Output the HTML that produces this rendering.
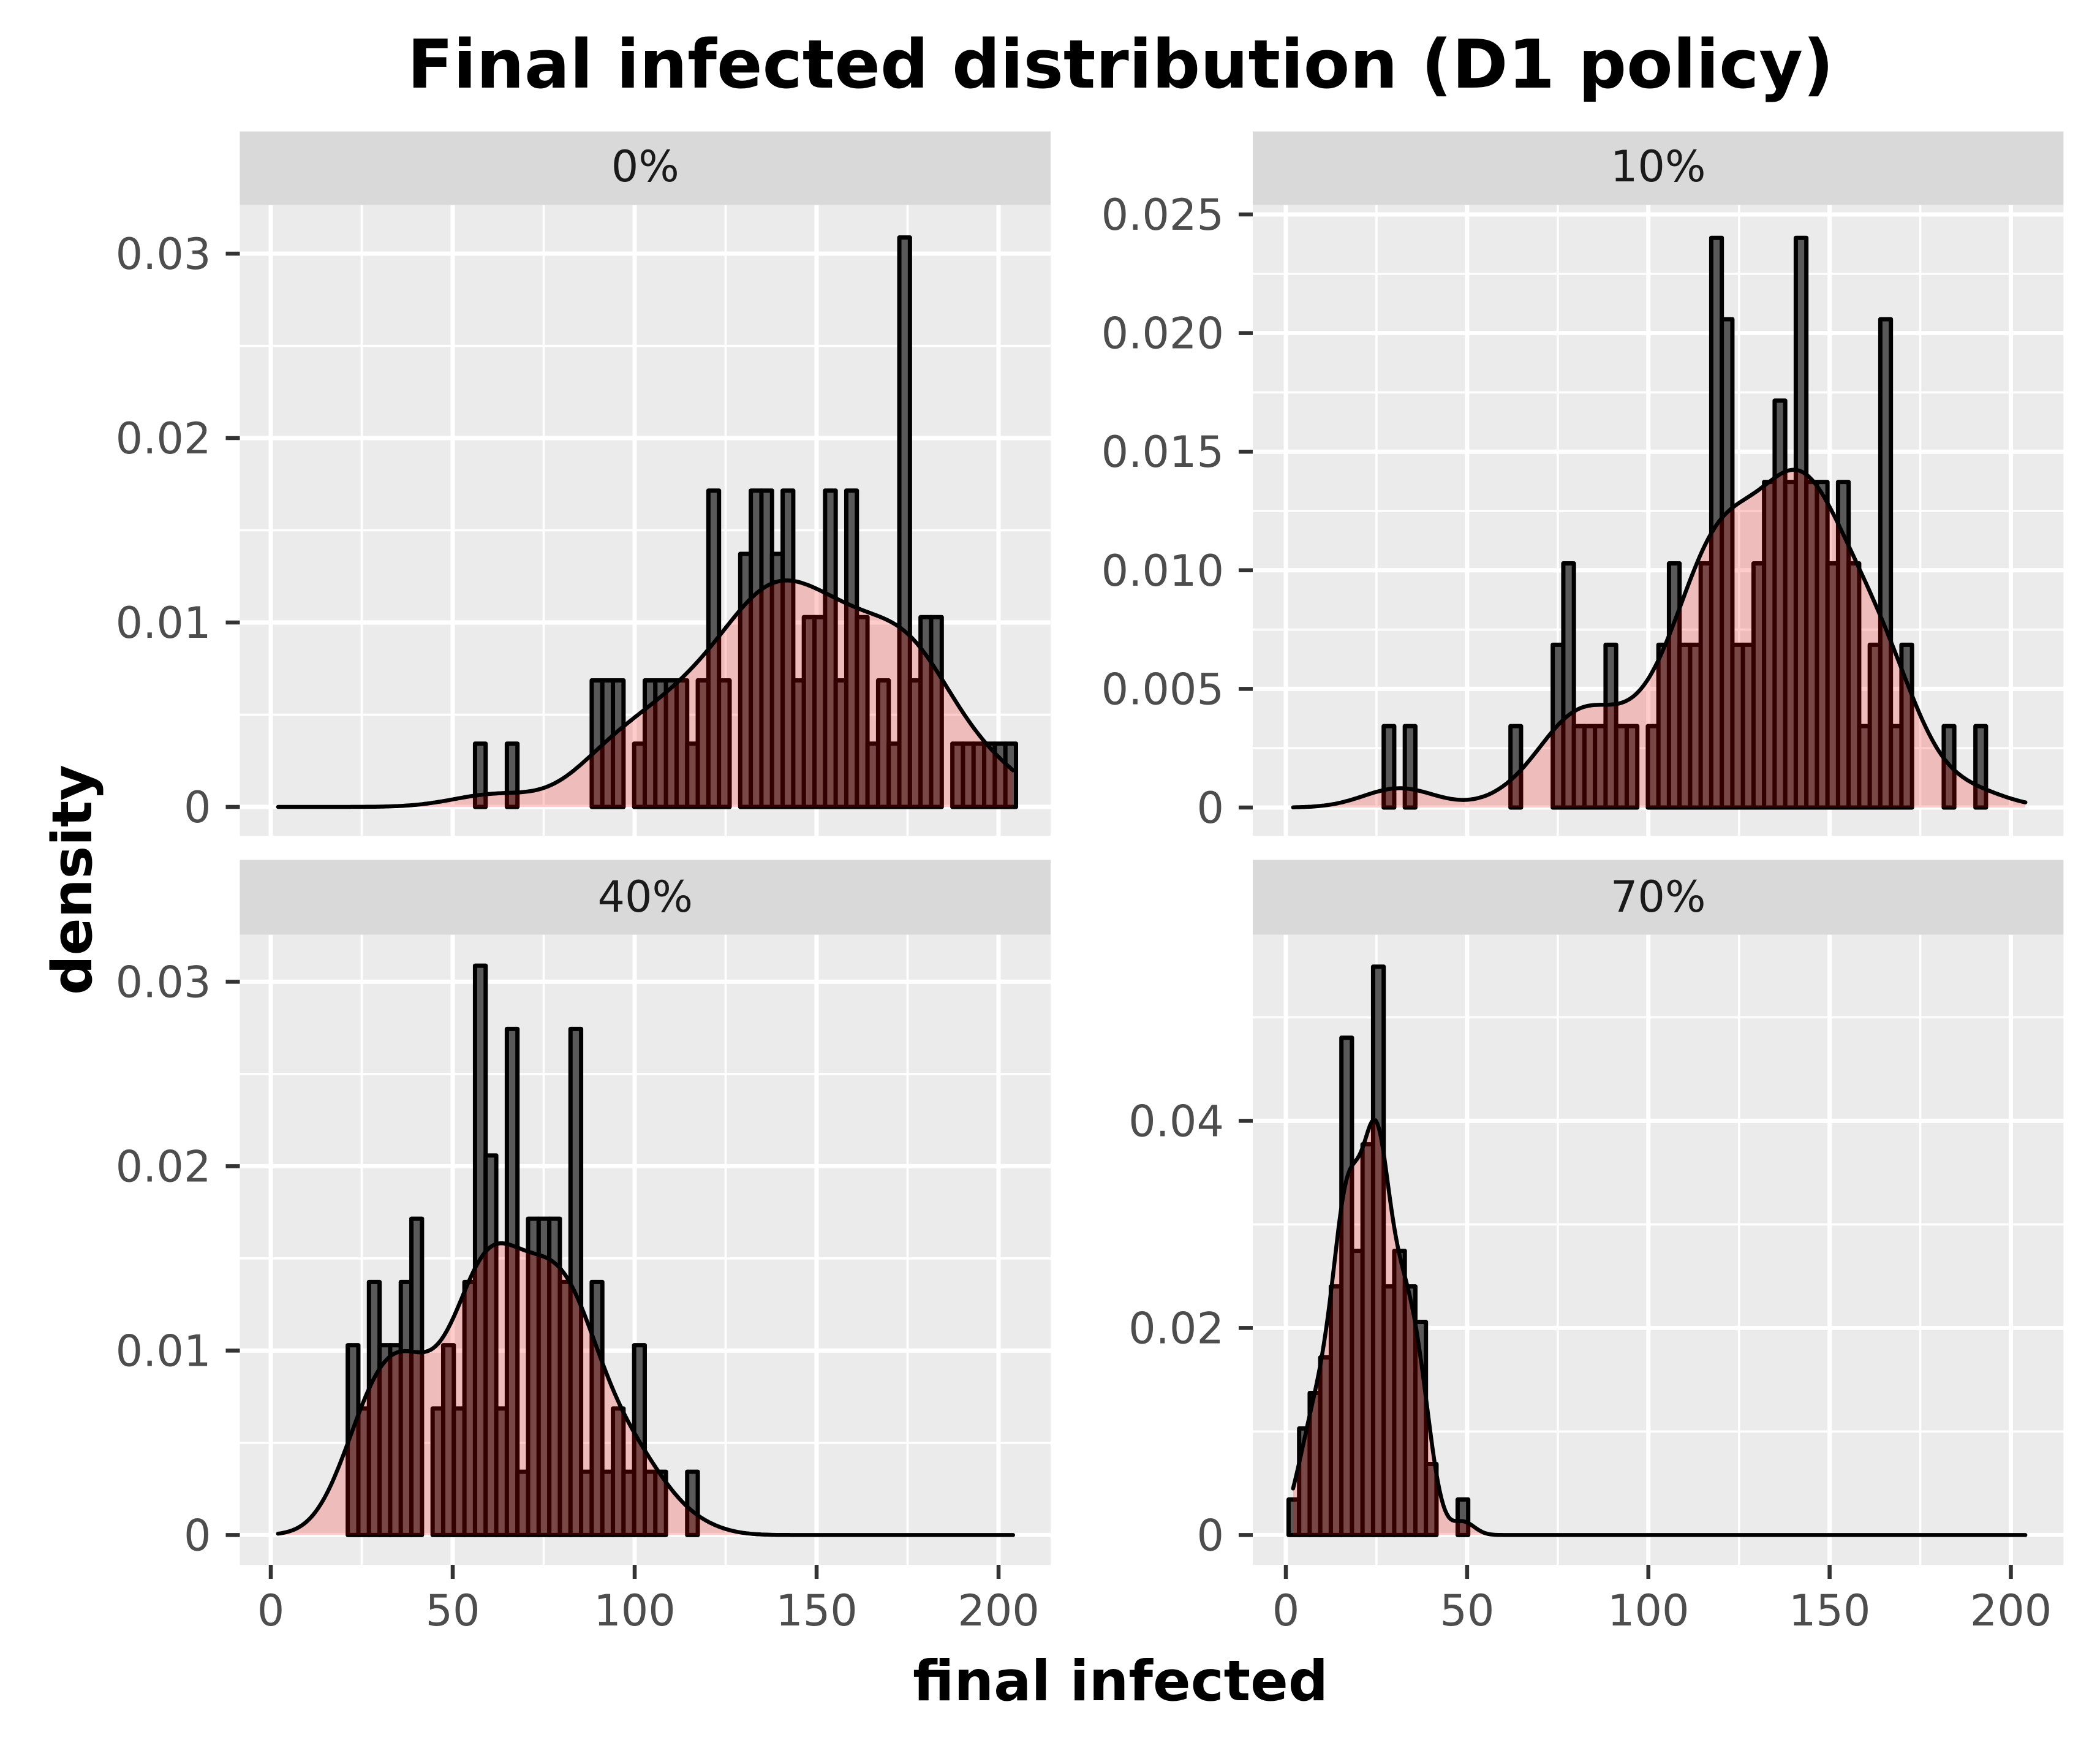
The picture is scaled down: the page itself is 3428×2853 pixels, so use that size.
<!DOCTYPE html>
<html>
<head>
<meta charset="utf-8">
<style>
html,body{margin:0;padding:0;background:#fff;}
svg{display:block;}
text{font-family:"DejaVu Sans","Liberation Sans",sans-serif;}
</style>
</head>
<body>
<svg id="chart" xmlns="http://www.w3.org/2000/svg" width="3428" height="2853" viewBox="0 0 3428 2853">
  <rect x="0" y="0" width="3428" height="2853" fill="#ffffff"/>
  <text x="1829" y="143" text-anchor="middle" font-size="110" font-weight="bold" fill="#000">Final infected distribution (D1 policy)</text>
  <text x="1829" y="2775" text-anchor="middle" font-size="91" font-weight="bold" fill="#000">final infected</text>
  <text x="0" y="0" transform="translate(149,1436) rotate(-90)" text-anchor="middle" font-size="90" font-weight="bold" fill="#000">density</text>
  <g id="panels"></g>
</svg>
<script>
// ---- data ----
const facetLabels = ["0%", "10%", "40%", "70%"];
const BIN_START = 0.75;
const BIN_WIDTH = 2.915;
const N_OBS = 100;
const X_MIN = 2;
const X_MAX = 204;
// counts per bin index (bins 0..69)
const counts0 = [0,0,0,0,0,0,0,0,0,0, 0,0,0,0,0,0,0,0,0,1, 0,0,1,0,0,0,0,0,0,0, 2,2,2,0,1,2,2,2,2,1, 2,5,2,0,4,5,5,4,5,2, 3,3,5,2,5,3,1,2,1,9, 2,3,3,0,1,1,1,1,1,1];
const counts10 = [0,0,0,0,0,0,0,0,0,1, 0,1,0,0,0,0,0,0,0,0, 0,1,0,0,0,2,3,1,1,1, 2,1,1,0,1,2,3,2,2,3, 7,6,2,2,3,4,5,4,7,4, 4,3,4,3,1,2,6,1,2,0, 0,0,1,0,0,1,0,0,0,0];
const counts40 = [0,0,0,0,0,0,0,3,2,4, 3,3,4,5,0,2,3,2,4,9, 6,2,8,1,5,5,5,4,8,1, 4,1,2,1,3,1,1,0,0,1, 0,0,0,0,0,0,0,0,0,0, 0,0,0,0,0,0,0,0,0,0, 0,0,0,0,0,0,0,0,0,0];
const counts70 = [1,3,4,5,7,14,8,11,16,7, 8,7,6,2,0,0,1,0,0,0, 0,0,0,0,0,0,0,0,0,0, 0,0,0,0,0,0,0,0,0,0, 0,0,0,0,0,0,0,0,0,0, 0,0,0,0,0,0,0,0,0,0, 0,0,0,0,0,0,0,0,0,0];
const xTicks = [0, 50, 100, 150, 200];
const xTickLabels = ["0", "50", "100", "150", "200"];
const xMinor = [25, 75, 125, 175];
const yTicks0 = [0, 0.01, 0.02, 0.03];
const yTickLabels0 = ["0", "0.01", "0.02", "0.03"];
const yMinor0 = [0.005, 0.015, 0.025];
const yTicks10 = [0, 0.005, 0.01, 0.015, 0.02, 0.025];
const yTickLabels10 = ["0", "0.005", "0.010", "0.015", "0.020", "0.025"];
const yMinor10 = [0.0025, 0.0075, 0.0125, 0.0175, 0.0225];
const yTicks70 = [0, 0.02, 0.04];
const yTickLabels70 = ["0", "0.02", "0.04"];
const yMinor70 = [0.01, 0.03, 0.05];

// ---- layout ----
const NS = "http://www.w3.org/2000/svg";
const panels = [
  {name:"0pct", label:facetLabels[0], counts:counts0, yt:yTicks0, yl:yTickLabels0, ym:yMinor0,
   L:391.5, R:1715, sT:214.5, T:334.7, B:1364, x0:442, kx:5.94, y0:1317, ky:30100, sBase:296, xAxis:false},
  {name:"10pct", label:facetLabels[1], counts:counts10, yt:yTicks10, yl:yTickLabels10, ym:yMinor10,
   L:2045, R:3368.4, sT:214.5, T:334.7, B:1364, x0:2099, kx:5.9175, y0:1318, ky:38720, sBase:296, xAxis:false},
  {name:"40pct", label:facetLabels[2], counts:counts40, yt:yTicks0, yl:yTickLabels0, ym:yMinor0,
   L:391.5, R:1715, sT:1403.5, T:1525.6, B:2554, x0:442, kx:5.94, y0:2505.4, ky:30100, sBase:1488, xAxis:true},
  {name:"70pct", label:facetLabels[3], counts:counts70, yt:yTicks70, yl:yTickLabels70, ym:yMinor70,
   L:2045, R:3368.4, sT:1403.5, T:1525.6, B:2554, x0:2099, kx:5.9175, y0:2505.4, ky:16900, sBase:1488, xAxis:true}
];

function mk(tag, attrs, parent){
  const e = document.createElementNS(NS, tag);
  for (const k in attrs) e.setAttribute(k, attrs[k]);
  parent.appendChild(e);
  return e;
}

function kde(counts){
  const pts = [], w = [];
  counts.forEach((c,i)=>{ if(c>0){ pts.push(BIN_START + BIN_WIDTH*(i+0.5)); w.push(c);} });
  const n = w.reduce((a,b)=>a+b,0);
  const mean = pts.reduce((s,p,i)=>s+p*w[i],0)/n;
  const sd = Math.sqrt(pts.reduce((s,p,i)=>s+w[i]*(p-mean)*(p-mean),0)/(n-1));
  function q(f){ let cum=0; const target=f*n; for(let i=0;i<pts.length;i++){cum+=w[i]; if(cum>=target) return pts[i];} return pts[pts.length-1]; }
  const iqr = q(0.75)-q(0.25);
  const bw = 0.9*Math.min(sd, iqr/1.34)*Math.pow(n,-0.2);
  const out = [];
  const M = 400;
  for(let j=0;j<=M;j++){
    const x = X_MIN + (X_MAX-X_MIN)*j/M;
    let s=0;
    for(let i=0;i<pts.length;i++){ const z=(x-pts[i])/bw; s+=w[i]*Math.exp(-0.5*z*z); }
    out.push([x, s/(n*bw*Math.sqrt(2*Math.PI))]);
  }
  return out;
}

const root = document.getElementById("panels");
panels.forEach(p=>{
  const g = mk("g", {}, root);
  
  
  const xs = v => p.x0 + v*p.kx;
  const ys = v => p.y0 - v*p.ky;

  const strip = mk("rect", {x:p.L, y:p.sT, width:p.R-p.L, height:p.T-p.sT, fill:"#d9d9d9"}, g);
  
  
  const st = mk("text", {x:(p.L+p.R)/2, y:p.sBase, "text-anchor":"middle", "font-size":70, fill:"#1a1a1a"}, g);
  st.textContent = p.label;
  
  

  const bg = mk("rect", {x:p.L, y:p.T, width:p.R-p.L, height:p.B-p.T, fill:"#ebebeb"}, g);
  
  

  p.ym.forEach(v=>{ const y=ys(v); if(y>p.T && y<p.B){ const l=mk("line",{x1:p.L,x2:p.R,y1:y,y2:y,stroke:"#fff","stroke-width":3.6},g);
      }});
  xMinor.forEach(v=>{ const x=xs(v); const l=mk("line",{x1:x,x2:x,y1:p.T,y2:p.B,stroke:"#fff","stroke-width":3.6},g);
      });
  p.yt.forEach(v=>{ const y=ys(v); const l=mk("line",{x1:p.L,x2:p.R,y1:y,y2:y,stroke:"#fff","stroke-width":7},g);
      });
  xTicks.forEach(v=>{ const x=xs(v); const l=mk("line",{x1:x,x2:x,y1:p.T,y2:p.B,stroke:"#fff","stroke-width":7},g);
      });

  // bars
  p.counts.forEach((c,i)=>{
    if(c<=0) return;
    const x1 = xs(BIN_START + BIN_WIDTH*i), x2 = xs(BIN_START + BIN_WIDTH*(i+1));
    const d = c/(N_OBS*BIN_WIDTH);
    const r = mk("rect",{x:x1,y:ys(d),width:x2-x1,height:ys(0)-ys(d),fill:"#595959",stroke:"#000","stroke-width":7,"stroke-linejoin":"round"},g);
    
    
  });

  // density
  const dens = kde(p.counts);
  let line = dens.map((q,j)=>(j?"L":"M")+xs(q[0]).toFixed(1)+","+ys(q[1]).toFixed(1)).join(" ");
  const area = line + " L"+xs(X_MAX).toFixed(1)+","+ys(0)+" L"+xs(X_MIN).toFixed(1)+","+ys(0)+" Z";
  const a = mk("path",{d:area,fill:"#ff0000","fill-opacity":0.2,stroke:"none"},g);
  
  
  const ln = mk("path",{d:line,fill:"none",stroke:"#000","stroke-width":6.5,"stroke-linejoin":"round","stroke-linecap":"round"},g);
  
  

  // y axis ticks
  p.yt.forEach((v,i)=>{
    const y=ys(v);
    const t=mk("line",{x1:p.L-23,x2:p.L,y1:y,y2:y,stroke:"#333","stroke-width":6.5},g);
    
    
    const tl=mk("text",{x:p.L-47,y:y+25,"text-anchor":"end","font-size":70,fill:"#4d4d4d"},g);
    tl.textContent=p.yl[i];
    
    
  });
  if(p.xAxis){
    xTicks.forEach((v,i)=>{
      const x=xs(v);
      const t=mk("line",{x1:x,x2:x,y1:p.B,y2:p.B+23,stroke:"#333","stroke-width":6.5},g);
      
      
      const tl=mk("text",{x:x,y:2653,"text-anchor":"middle","font-size":70,fill:"#4d4d4d"},g);
      tl.textContent=xTickLabels[i];
      
      
    });
  }
});
</script>
</body>
</html>
